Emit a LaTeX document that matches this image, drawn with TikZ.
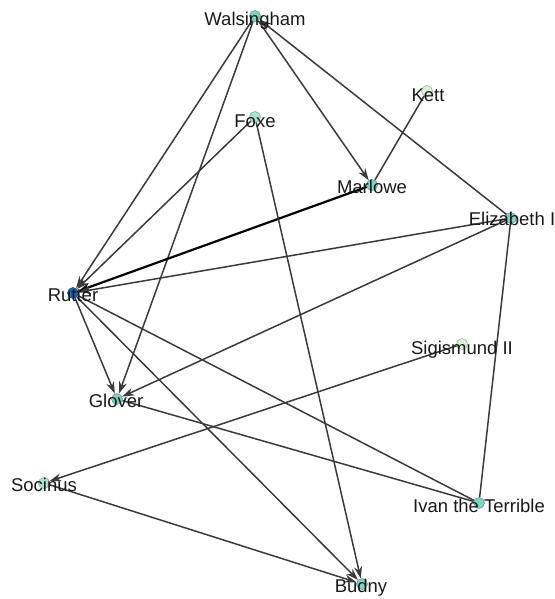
\documentclass[tikz,border=0pt]{standalone}
\usepackage{fontspec}
\setmainfont{Liberation Sans}
\usetikzlibrary{arrows.meta}
\definecolor{edgegray}{HTML}{3A3A3A}
\definecolor{teal1}{HTML}{7FD3C3}
\definecolor{teal2}{HTML}{A9E2D2}
\definecolor{pale}{HTML}{DDF0DA}
\definecolor{rutterblue}{HTML}{1565B0}
\tikzset{
  vtx/.style={circle,draw=#1!70!black,fill=#1,line width=0.5pt,inner sep=0pt,minimum size=11pt},
  lbl/.style={font=\fontsize{18.5}{20}\selectfont,text=black!90,inner sep=0pt,anchor=center},
  edge/.style={draw=edgegray,line width=1.5pt},
  arr/.style={edge,-{Stealth[length=12pt,width=8pt]}},
  strong/.style={draw=black,line width=2.2pt,-{Stealth[length=12pt,width=8pt]}}
}
\begin{document}
\begin{tikzpicture}[x=1pt,y=-1pt]
\useasboundingbox (0,0) rectangle (554,599);
% vertices
\node[vtx=teal1] (wal) at (255,16) {};
\node[vtx=pale] (ket) at (427,91) {};
\node[vtx=teal2] (fox) at (255,117) {};
\node[vtx=teal1] (mar) at (372,185) {};
\node[vtx=teal1] (eli) at (511,218) {};
\node[vtx=rutterblue] (rut) at (73,293) {};
\node[vtx=pale] (sig) at (462,344) {};
\node[vtx=teal1] (glo) at (117,399) {};
\node[vtx=teal2] (soc) at (44,483) {};
\node[vtx=teal1] (iva) at (479,503) {};
\node[vtx=teal1] (bud) at (362,584) {};
% edges
\path[arr] (wal) -- (rut);
\path[arr] (wal) -- (glo);
\path[arr] (wal) -- (mar);
\path[arr] (eli) -- (wal);
\path[edge] (ket) -- (mar);
\path[strong] (mar) -- (rut);
\path[arr] (fox) -- (rut);
\path[arr] (fox) -- (bud);
\path[arr] (eli) -- (rut);
\path[arr] (eli) -- (glo);
\path[edge] (eli) -- (iva);
\path[arr] (rut) -- (glo);
\path[arr] (rut) -- (bud);
\path[edge] (rut) -- (iva);
\path[edge] (glo) -- (iva);
\path[arr] (sig) -- (soc);
\path[arr] (soc) -- (bud);
% labels
\node[lbl] (lwal) at (255,21) {Walsingham};
\node[lbl] (lket) at (428,95) {Kett};
\node[lbl] (lfox) at (255,121) {Foxe};
\node[lbl] (lmar) at (372,187) {Marlowe};
\node[lbl] (leli) at (512,219) {Elizabeth I};
\node[lbl] (lrut) at (73,295) {Rutter};
\node[lbl] (lsig) at (462,350) {Sigismund II};
\node[lbl] (lglo) at (116,401) {Glover};
\node[lbl] (lsoc) at (44,485) {Socinus};
\node[lbl] (liva) at (479,506) {Ivan the Terrible};
\node[lbl] (lbud) at (361,588) {Budny};
\end{tikzpicture}
\end{document}
